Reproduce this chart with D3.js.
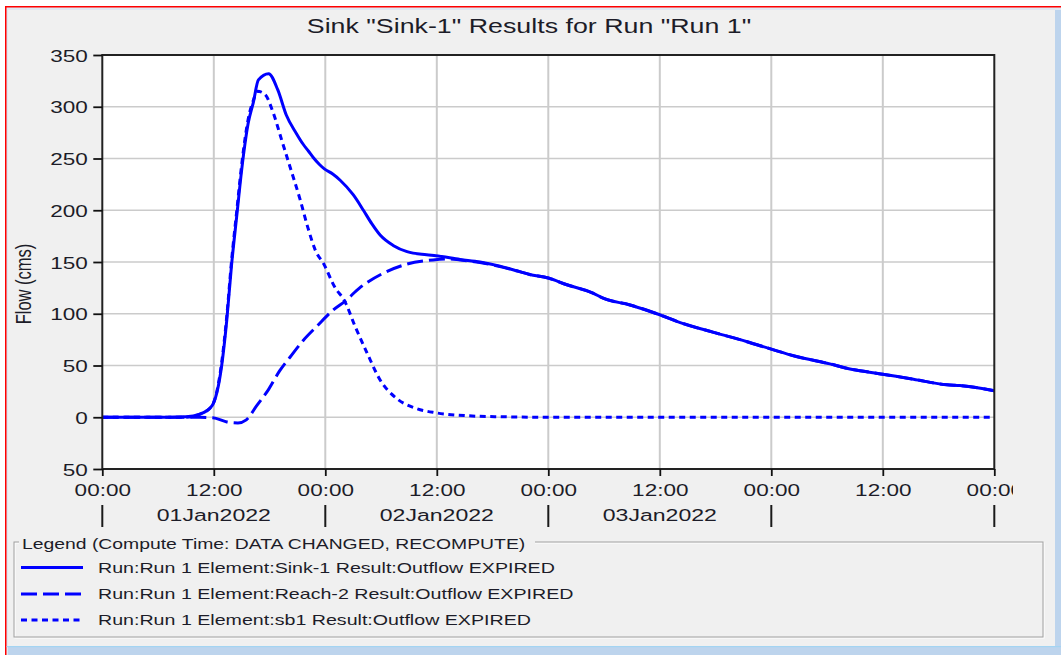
<!DOCTYPE html>
<html>
<head>
<meta charset="utf-8">
<script src="https://cdn.jsdelivr.net/npm/d3@7"></script>
<style>
  html, body { margin: 0; padding: 0; background: #ffffff; }
  svg { display: block; }
  text { font-family: "Liberation Sans", Arial, sans-serif; fill: #1c1c28; }
</style>
</head>
<body>
<svg id="chart" width="1061" height="655"></svg>
<script>
// Outflow hydrographs, hours after 01Jan2022 00:00 and flow in cms
const sinkHours = [0, 6, 9, 10.5, 11.8, 12.85, 13.4, 13.9, 14.5, 15.0, 15.7, 16.25, 16.8, 17.9, 18.9, 19.8, 20.9, 21.6, 22.2, 22.7, 23.4, 23.9, 24.8, 25.6, 27.0, 28.1, 29.0, 29.9, 31.3, 32.8, 34.9, 35.9, 38.5, 40.65, 42.8, 44.2, 46.0, 48, 50, 52.8, 53.9, 56.8, 60, 62.2, 65.8, 69.4, 72, 74.7, 78.3, 80.1, 84, 87.3, 90.9, 92.3, 96];
const sinkFlow  = [0, 0, 0.5, 3, 11, 50, 94, 146, 197, 239, 284, 304, 326, 332, 316, 292, 274, 264, 257, 251, 244, 240, 235, 229, 215, 200, 187, 176, 166, 160, 157, 156, 152.5, 150, 146, 142.5, 138, 134.5, 128, 120, 115, 108.5, 99, 91.5, 82, 73, 65.8, 58.7, 51.6, 47.4, 41.6, 36.8, 31.3, 30.6, 25.7];

const reachHours = [0, 10.5, 11.9, 13.4, 14.6, 15.5, 16.6, 17.9, 19.1, 20.2, 21.6, 23.1, 24.9, 26.1, 27.7, 30.2, 32.8, 35.6, 37.4, 38.5, 40.65, 42.8, 44.2, 46.0, 48, 50, 52.8, 53.9, 56.8, 60, 62.2, 65.8, 69.4, 72, 74.7, 78.3, 80.1, 84, 87.3, 90.9, 92.3, 96];
const reachFlow  = [0, 0, -0.5, -4.5, -5.5, -2.5, 11, 27, 45, 58, 74, 88, 104, 112, 125, 139, 148, 152, 153, 152, 149.5, 145.5, 142.5, 138, 134.5, 128, 120, 115, 108.5, 99, 91.5, 82, 73, 65.8, 58.7, 51.6, 47.4, 41.6, 36.8, 31.3, 30.6, 25.7];

const sb1Hours = [0, 9, 10.5, 11.8, 12.85, 13.4, 13.9, 14.5, 15.0, 15.7, 16.25, 16.7, 17.5, 18.4, 19.3, 20.2, 21.3, 22.1, 22.9, 23.9, 25.0, 26.1, 27.2, 28.5, 29.9, 31.7, 33.8, 35.9, 39.2, 42.8, 48, 96];
const sb1Flow  = [0, 0, 3, 11, 53, 98, 150, 202, 244, 288, 306, 315, 312, 294, 268, 242, 210, 184, 162, 147, 126, 112, 88, 62, 36, 18, 8.5, 4.3, 1.5, 0.5, 0, 0];

// Axis ticks and labels
const yTickValues = [-50, 0, 50, 100, 150, 200, 250, 300, 350];
const yTickLabels = ["50", "0", "50", "100", "150", "200", "250", "300", "350"];
const xTickHours  = [0, 12, 24, 36, 48, 60, 72, 84, 96];
const xTickLabels = ["00:00", "12:00", "00:00", "12:00", "00:00", "12:00", "00:00", "12:00", "00:00"];
const dayStartHours = [0, 24, 48, 72, 96];
const dayLabels = ["01Jan2022", "02Jan2022", "03Jan2022"];

const chartTitle = 'Sink "Sink-1" Results for Run "Run 1"';
const yAxisTitle = "Flow (cms)";
const legendTitle = "Legend (Compute Time: DATA CHANGED, RECOMPUTE)";
const seriesNames = [
  "Run:Run 1 Element:Sink-1 Result:Outflow EXPIRED",
  "Run:Run 1 Element:Reach-2 Result:Outflow EXPIRED",
  "Run:Run 1 Element:sb1 Result:Outflow EXPIRED"
];
const seriesDash = [null, "16,6", "6,4.5"];

// ---------------------------------------------------------------------
const W = 1061, H = 655;
const SX = 1.326;               // horizontal widening of the GDI-style text
const BLUE = "#0000ff";
const plot = { left: 102.3, right: 994.3, top: 55, bottom: 469 };

const svg = d3.select("#chart");

// Window frame
svg.append("rect").attr("width", W).attr("height", H).attr("fill", "#ffffff");
svg.append("rect").attr("x", 5).attr("y", 6).attr("width", W - 5).attr("height", H - 6).attr("fill", "#ff0000");
svg.append("rect").attr("x", 6.5).attr("y", 7.5).attr("width", W - 6.5).attr("height", H - 7.5).attr("fill", "#dfe7f1");
svg.append("rect").attr("x", 8).attr("y", 10).attr("width", W - 8).attr("height", H - 10).attr("fill", "#bdd4ed");
svg.append("rect").attr("x", 8).attr("y", 10).attr("width", 1047).attr("height", 636).attr("fill", "#f0f0f0");
svg.append("rect").attr("x", 6.5).attr("y", 646).attr("width", W - 6.5).attr("height", 1.2).attr("fill", "#a3d4f2");

// Scales
const x = d3.scaleLinear().domain([0, 96]).range([plot.left, plot.right]);
const y = d3.scaleLinear().domain([-50, 350]).range([plot.bottom, plot.top]);

function wideText(g, px, py) {
  return g.append("text").attr("transform", `translate(${px},${py}) scale(${SX},1)`);
}

// Title
wideText(svg, 529, 32.5).attr("text-anchor", "middle").style("font-size", "20.2px").text(chartTitle);

// Plot background and grid
svg.append("rect")
  .attr("x", plot.left).attr("y", plot.top)
  .attr("width", plot.right - plot.left).attr("height", plot.bottom - plot.top)
  .attr("fill", "#ffffff");

const grid = svg.append("g").attr("stroke", "#cbcbcb");
grid.selectAll("line.h").data(yTickValues.slice(1, -1)).join("line")
  .attr("class", "h")
  .attr("x1", plot.left).attr("x2", plot.right)
  .attr("y1", d => y(d)).attr("y2", d => y(d))
  .attr("stroke-width", 1.7);
grid.selectAll("line.v").data(xTickHours.slice(1, -1)).join("line")
  .attr("class", "v")
  .attr("x1", d => x(d)).attr("x2", d => x(d))
  .attr("y1", plot.top).attr("y2", plot.bottom)
  .attr("stroke-width", 2);

// Hydrograph lines
svg.append("clipPath").attr("id", "plotClip").append("rect")
  .attr("x", plot.left).attr("y", plot.top)
  .attr("width", plot.right - plot.left).attr("height", plot.bottom - plot.top);

const line = d3.line().x(d => x(d[0])).y(d => y(d[1])).curve(d3.curveMonotoneX);
const series = [
  { pts: d3.zip(sb1Hours, sb1Flow), dash: seriesDash[2] },
  { pts: d3.zip(reachHours, reachFlow), dash: seriesDash[1] },
  { pts: d3.zip(sinkHours, sinkFlow), dash: seriesDash[0] }
];
svg.append("g").attr("clip-path", "url(#plotClip)")
  .selectAll("path").data(series).join("path")
  .attr("d", d => line(d.pts))
  .attr("fill", "none")
  .attr("stroke", BLUE)
  .attr("stroke-width", 3)
  .attr("stroke-linejoin", "round")
  .attr("stroke-dasharray", d => d.dash);

// Plot frame
svg.append("rect")
  .attr("x", plot.left).attr("y", plot.top)
  .attr("width", plot.right - plot.left).attr("height", plot.bottom - plot.top)
  .attr("fill", "none").attr("stroke", "#222222").attr("stroke-width", 2);

// Y axis
const yAxisG = svg.append("g").attr("transform", `translate(${plot.left},0)`)
  .call(d3.axisLeft(y).tickValues(yTickValues).tickFormat((d, i) => yTickLabels[i]).tickSize(9).tickPadding(5.5));
yAxisG.select(".domain").remove();
yAxisG.selectAll(".tick line").attr("stroke", "#111").attr("stroke-width", 1.8);
yAxisG.selectAll(".tick text")
  .attr("x", -14.5 / SX).attr("dy", "0.36em")
  .attr("transform", `scale(${SX},1)`)
  .attr("fill", "#1c1c28")
  .style("font-size", "17px");
yAxisG.attr("font-family", null).attr("font-size", null);

// X axis (labels cut off at the right edge of the chart panel)
svg.append("clipPath").attr("id", "axisClip").append("rect")
  .attr("x", 0).attr("y", 460).attr("width", 1013).attr("height", 80);
const xAxisOuter = svg.append("g").attr("clip-path", "url(#axisClip)");
const xAxisG = xAxisOuter.append("g").attr("transform", `translate(0,${plot.bottom})`)
  .call(d3.axisBottom(x).tickValues(xTickHours).tickFormat((d, i) => xTickLabels[i]).tickSize(7));
xAxisG.select(".domain").remove();
xAxisG.selectAll(".tick line").attr("stroke", "#111").attr("stroke-width", 1.8);
xAxisG.selectAll(".tick text")
  .attr("y", 27).attr("dy", 0)
  .attr("transform", `scale(${SX},1)`)
  .attr("fill", "#1c1c28")
  .style("font-size", "17px");
xAxisG.attr("font-family", null).attr("font-size", null);

// Day separators and date labels
const dayG = svg.append("g");
dayG.selectAll("line").data(dayStartHours).join("line")
  .attr("x1", d => x(d)).attr("x2", d => x(d))
  .attr("y1", 505).attr("y2", 527)
  .attr("stroke", "#1a1a1a").attr("stroke-width", 2);
dayLabels.forEach((lab, i) => {
  const cx = (x(dayStartHours[i]) + x(dayStartHours[i + 1])) / 2;
  wideText(dayG, cx, 521).attr("text-anchor", "middle").style("font-size", "17.4px").text(lab);
});

// Y axis title
svg.append("text")
  .attr("transform", `translate(30.5,284) scale(${SX},1) rotate(-90)`)
  .attr("text-anchor", "middle")
  .style("font-size", "16.5px")
  .text(yAxisTitle);

// Legend group box (etched border)
const lg = svg.append("g");
const box = { x: 14, y: 542, w: 1029, h: 95 };
lg.append("rect").attr("x", box.x + 1).attr("y", box.y + 1).attr("width", box.w).attr("height", box.h)
  .attr("fill", "none").attr("stroke", "#ffffff").attr("stroke-width", 1);
lg.append("rect").attr("x", box.x).attr("y", box.y).attr("width", box.w).attr("height", box.h)
  .attr("fill", "none").attr("stroke", "#a0a0a0").attr("stroke-width", 1);
lg.append("rect").attr("x", 19).attr("y", 534).attr("width", 516).attr("height", 16).attr("fill", "#f0f0f0");
wideText(lg, 22, 548.5).style("font-size", "14.6px").text(legendTitle);

const rowY = [567.5, 594, 620];
seriesNames.forEach((name, i) => {
  lg.append("line")
    .attr("x1", 21).attr("x2", 83).attr("y1", rowY[i]).attr("y2", rowY[i])
    .attr("stroke", BLUE).attr("stroke-width", 3)
    .attr("stroke-dasharray", seriesDash[i]);
  wideText(lg, 98, rowY[i] + 5.3).style("font-size", "14.8px").text(name);
});
</script>
</body>
</html>
